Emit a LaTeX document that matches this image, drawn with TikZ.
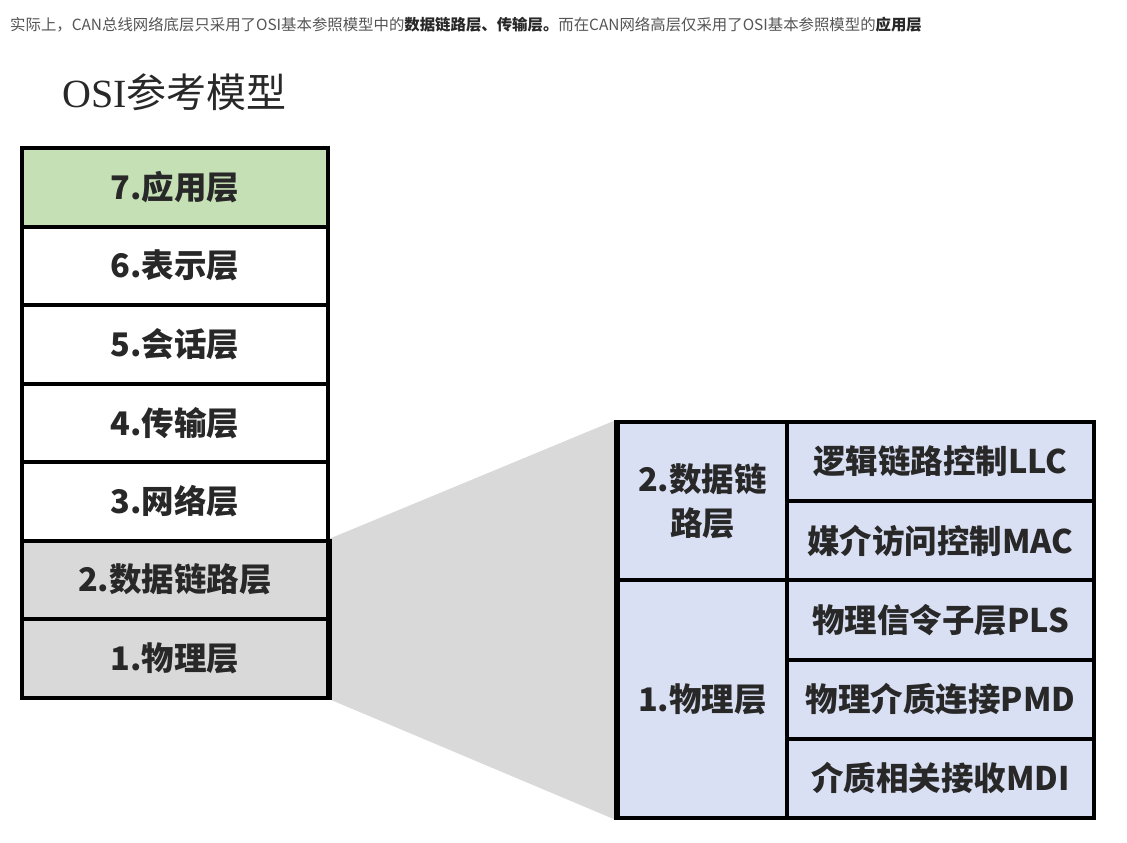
\documentclass[tikz,border=0pt]{standalone}
\usepackage{fontspec}
\newfontfamily\cjk{Noto Sans CJK SC}
\newfontfamily\serifl{Liberation Serif}
\definecolor{appgreen}{RGB}{197,224,180}
\definecolor{lgray}{RGB}{217,217,217}
\definecolor{lav}{RGB}{218,224,243}
\definecolor{txtgray}{RGB}{85,85,85}
\definecolor{txtdark}{RGB}{40,40,40}
\tikzset{
  layer/.style={draw=black, line width=4pt, minimum width=306pt, minimum height=78.5pt, inner sep=0pt, font=\cjk\bfseries\fontsize{32.5}{36}\selectfont, text=txtdark},
  leftcol/.style={draw=black, line width=4pt, minimum width=169pt, inner sep=0pt, fill=lav, align=center, font=\cjk\bfseries\fontsize{32.5}{44}\selectfont, text=txtdark},
  sublayer/.style={draw=black, line width=4pt, minimum width=307pt, minimum height=79.2pt, inner sep=0pt, fill=lav, font=\cjk\bfseries\fontsize{32.5}{36}\selectfont, text=txtdark},
}
\begin{document}
\begin{tikzpicture}[x=1pt,y=-1pt]
\useasboundingbox (0,0) rectangle (1127,843);
\fill[white] (0,0) rectangle (1127,843);
% heading text
\node[anchor=west, inner sep=0pt, text=txtgray, font=\cjk\fontsize{15.4}{18}\selectfont] (intro) at (10,25)
  {实际上，CAN总线网络底层只采用了OSI基本参照模型中的{\color{txtdark}\bfseries 数据链路层、传输层。}而在CAN网络高层仅采用了OSI基本参照模型的{\color{txtdark}\bfseries 应用层}};
% title
\node[anchor=west, inner sep=0pt, text=txtdark, font=\fontsize{40}{46}\selectfont] (title) at (62,92)
  {\serifl OSI\cjk 参考模型};
% left stack
\node[layer, fill=appgreen] (l7) at (175,187.25) {7.应用层};
\node[layer, fill=white] (l6) at (175,265.75) {6.表示层};
\node[layer, fill=white] (l5) at (175,344.25) {5.会话层};
\node[layer, fill=white] (l4) at (175,422.75) {4.传输层};
\node[layer, fill=white] (l3) at (175,501.25) {3.网络层};
\node[layer, fill=lgray] (l2) at (175,579.75) {2.数据链路层};
\node[layer, fill=lgray] (l1) at (175,658.25) {1.物理层};
% right table
\node[leftcol, minimum height=158.4pt] (dl) at (702.5,501.2) {2.数据链\\路层};
\node[leftcol, minimum height=237.6pt] (ph) at (702.5,699.2) {1.物理层};
\node[sublayer] (llc) at (940.5,461.6) {逻辑链路控制LLC};
\node[sublayer] (mac) at (940.5,540.8) {媒介访问控制MAC};
\node[sublayer] (pls) at (940.5,620.0) {物理信令子层PLS};
\node[sublayer] (pmd) at (940.5,699.2) {物理介质连接PMD};
\node[sublayer] (mdi) at (940.5,778.4) {介质相关接收MDI};
% zoom trapezoid
\fill[lgray] (l2.north east) -- (dl.north west) -- (ph.south west) -- (l1.south east) -- cycle;
% redraw borders on top of trapezoid
\draw[line width=4pt] (l2.north east) -- (l1.south east);
\draw[line width=4pt] (dl.north west) -- (ph.south west);
\end{tikzpicture}
\end{document}
